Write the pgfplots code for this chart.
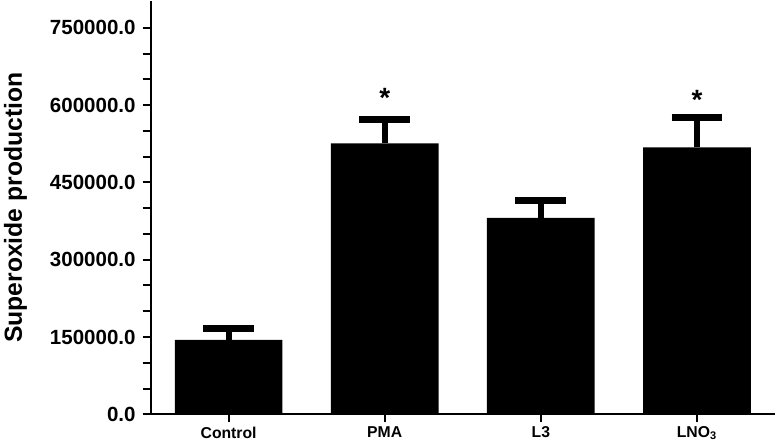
\documentclass[border=0pt]{standalone}
\usepackage{fontspec}
\setmainfont{Liberation Sans}
\usepackage{pgfplots}
\pgfplotsset{compat=1.18}
\begin{document}
\begin{tikzpicture}
\begin{axis}[
  scale only axis, width=313.5pt, height=207.5pt,
  xmin=-0.5, xmax=3.5, ymin=0, ymax=802000,
  axis x line*=bottom, axis y line*=left,
  axis line style={line width=1pt},
  xtick={0,1,2,3},
  xticklabels={Control,PMA,L3,LNO\textsubscript{3}},
  ytick={0,150000,300000,450000,600000,750000},
  minor y tick num=2,
  tick align=outside,
  tick style={line width=1pt,black},
  major tick length=4pt, minor tick length=4pt,
  scaled y ticks=false,
  yticklabel style={font=\bfseries\fontsize{10.3}{12}\selectfont,
    /pgf/number format/fixed,/pgf/number format/fixed zerofill,
    /pgf/number format/precision=1,/pgf/number format/1000 sep={},
    /pgf/number format/assume math mode=true},
  xticklabel style={font=\bfseries\fontsize{7.9}{9}\selectfont,inner sep=0pt,text depth=2pt,yshift=-2pt},
  ylabel={Superoxide production},
  ylabel style={font=\bfseries\fontsize{12.4}{14}\selectfont,inner sep=2pt,yshift=6pt},
]
\addplot[ybar, bar width=0.69, fill=black, draw=none,
  error bars/.cd, y dir=plus, y explicit,
  error bar style={line width=3pt,black},
  error mark=|, error mark options={mark size=12.75pt,line width=3.5pt,black}]
coordinates {
  (0,144400) +- (0,22400)
  (1,525800) +- (0,45400)
  (2,381400) +- (0,33600)
  (3,518000) +- (0,57400)
};
% significance marks
\addplot[draw=none, mark=none, nodes near coords, point meta=explicit symbolic,
  nodes near coords style={font=\bfseries\fontsize{14}{14}\selectfont,anchor=center,inner sep=0pt}]
coordinates {(1,614700)[*] (3,610800)[*]};
\end{axis}
\end{tikzpicture}
\end{document}
